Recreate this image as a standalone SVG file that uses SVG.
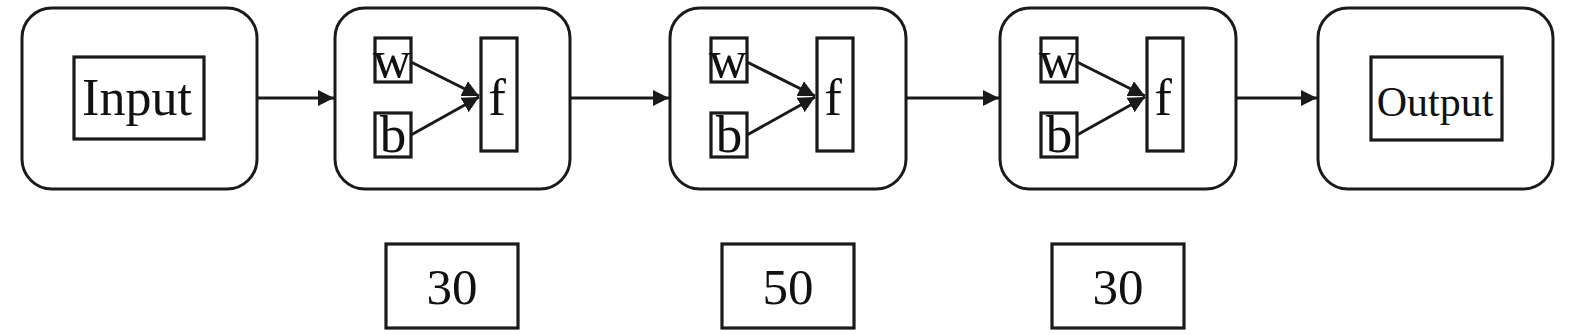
<svg xmlns="http://www.w3.org/2000/svg" width="1575" height="335" viewBox="0 0 1575 335">
<style>
.node{fill:#fff;stroke:#1a1a1a;stroke-width:3}
.box{fill:#fff;stroke:#1a1a1a;stroke-width:3.2}
.conn{stroke:#1a1a1a;stroke-width:3;fill:none}
text{font-family:"Liberation Serif","Times New Roman",serif;fill:#111}
.lbl{font-size:51px;text-anchor:middle}
.var{font-size:53px;text-anchor:middle}
</style>
<defs>
<marker id="arr" viewBox="0 0 10 10" refX="10" refY="5" markerWidth="5.5" markerHeight="5.5" markerUnits="strokeWidth" orient="auto">
<path d="M0,0 L10,5 L0,10 z" fill="#1a1a1a"/>
</marker>
</defs>
<g id="input">
<rect class="node" x="22" y="8" width="235" height="181" rx="30"/>
<rect class="box" x="74" y="57" width="130" height="82"/>
<text class="lbl" x="137" y="115" style="font-size:52px">Input</text>
</g>
<g id="layer1">
<rect class="node" x="335" y="8" width="235" height="181" rx="30"/>
<rect class="box" x="375" y="38" width="36" height="44"/>
<text class="var" x="392" y="77">w</text>
<rect class="box" x="375" y="113" width="36" height="44"/>
<text class="var" x="393" y="152">b</text>
<rect class="box" x="481" y="38" width="36" height="113"/>
<text class="var" x="497" y="115">f</text>
<line class="conn" x1="411" y1="62" x2="479" y2="96" marker-end="url(#arr)"/>
<line class="conn" x1="411" y1="135" x2="479" y2="97" marker-end="url(#arr)"/>
</g>
<g id="layer2">
<rect class="node" x="670" y="8" width="236" height="181" rx="30"/>
<rect class="box" x="711" y="38" width="36" height="44"/>
<text class="var" x="728" y="77">w</text>
<rect class="box" x="711" y="113" width="36" height="44"/>
<text class="var" x="729" y="152">b</text>
<rect class="box" x="817" y="38" width="36" height="113"/>
<text class="var" x="833" y="115">f</text>
<line class="conn" x1="747" y1="62" x2="815" y2="96" marker-end="url(#arr)"/>
<line class="conn" x1="747" y1="135" x2="815" y2="97" marker-end="url(#arr)"/>
</g>
<g id="layer3">
<rect class="node" x="1000" y="8" width="236" height="181" rx="30"/>
<rect class="box" x="1041" y="38" width="36" height="44"/>
<text class="var" x="1058" y="77">w</text>
<rect class="box" x="1041" y="113" width="36" height="44"/>
<text class="var" x="1059" y="152">b</text>
<rect class="box" x="1147" y="38" width="36" height="113"/>
<text class="var" x="1163" y="115">f</text>
<line class="conn" x1="1077" y1="62" x2="1145" y2="96" marker-end="url(#arr)"/>
<line class="conn" x1="1077" y1="135" x2="1145" y2="97" marker-end="url(#arr)"/>
</g>
<g id="output">
<rect class="node" x="1318" y="8" width="235" height="181" rx="30"/>
<rect class="box" x="1371" y="57" width="131" height="83"/>
<text class="lbl" x="1435" y="116" style="font-size:42px">Output</text>
</g>
<g id="count1">
<rect class="box" x="386" y="244" width="132" height="84"/>
<text class="lbl" x="452" y="304">30</text>
</g>
<g id="count2">
<rect class="box" x="722" y="244" width="132" height="84"/>
<text class="lbl" x="788" y="304">50</text>
</g>
<g id="count3">
<rect class="box" x="1052" y="244" width="132" height="84"/>
<text class="lbl" x="1118" y="304">30</text>
</g>
<g id="connectors">
<line class="conn" x1="257" y1="98" x2="334" y2="98" marker-end="url(#arr)"/>
<line class="conn" x1="570" y1="98" x2="669" y2="98" marker-end="url(#arr)"/>
<line class="conn" x1="906" y1="98" x2="999" y2="98" marker-end="url(#arr)"/>
<line class="conn" x1="1236" y1="98" x2="1317" y2="98" marker-end="url(#arr)"/>
</g>
</svg>
